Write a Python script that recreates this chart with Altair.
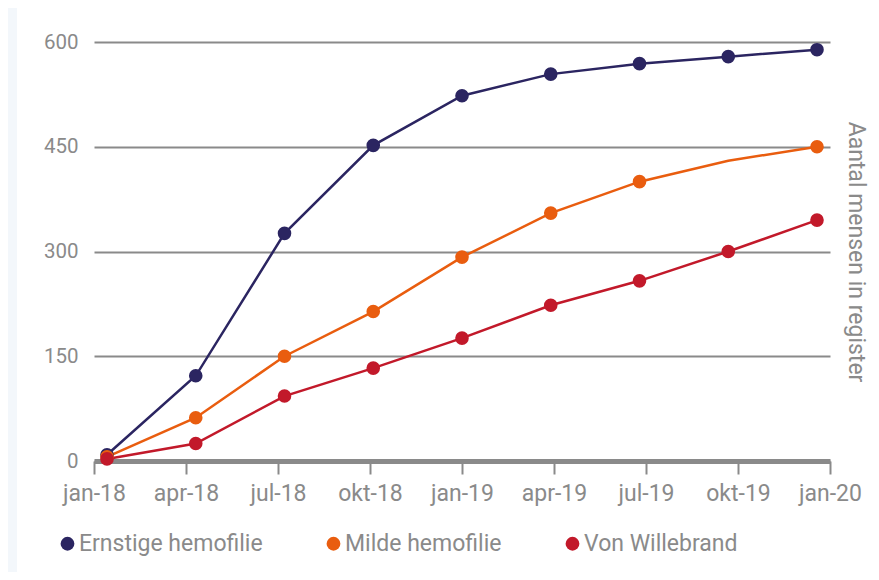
import altair as alt
import pandas as pd

# ---- data ----
quarters = ["jan-18", "apr-18", "jul-18", "okt-18", "jan-19",
            "apr-19", "jul-19", "okt-19", "jan-20"]
series = ["Ernstige hemofilie", "Milde hemofilie", "Von Willebrand"]
ernstige = [9, 122, 326, 452, 523, 554, 569, 579, 589]
milde = [6, 62, 150, 214, 292, 355, 400, 430, 450]
willebrand = [3, 25, 93, 133, 176, 223, 258, 300, 345]
# the orange series shows no marker at okt-19
markers_ernstige = [True] * 9
markers_milde = [True] * 7 + [False, True]
markers_willebrand = [True] * 9
colors = ["#2b2561", "#e95d0f", "#c2192a"]
y_ticks = [0, 150, 300, 450, 600]

rows = []
for name, vals, marks in zip(series,
                             [ernstige, milde, willebrand],
                             [markers_ernstige, markers_milde, markers_willebrand]):
    for i, (v, m) in enumerate(zip(vals, marks)):
        rows.append({"serie": name, "idx": i, "waarde": v, "marker": m})
df = pd.DataFrame(rows)
ticks_df = pd.DataFrame({"idx": list(range(len(quarters))), "label": quarters})

GREY = "#8a8a8a"
FONT = "Roboto"
W, H = 736, 419

label_expr = "[" + ",".join("'%s'" % q for q in quarters) + "][datum.value]"

color_scale = alt.Scale(domain=series, range=colors)
x_data = alt.X("idx:Q", scale=alt.Scale(domain=[-0.1465, 8.1465], nice=False, zero=False), axis=None)
y_enc = alt.Y(
    "waarde:Q",
    scale=alt.Scale(domain=[0, 600], nice=False),
    axis=alt.Axis(
        values=y_ticks,
        title="Aantal mensen in register",
        titleAngle=90,
        titleX=W + 25,
        titleY=H / 2,
        titleAlign="center",
        titleBaseline="middle",
        titleFontSize=23,
        titleFontWeight="normal",
        titleColor=GREY,
        titleFont=FONT,
        domain=False,
        ticks=False,
        tickSize=0,
        labelPadding=16,
        labelFontSize=20.5,
        labelColor=GREY,
        labelFont=FONT,
        grid=True,
        gridColor=GREY,
        gridWidth=2,
    ),
)

strip = alt.Chart(alt.Data(values=[{"a": 1}])).mark_rect(fill="#f3f7fb").encode(
    x=alt.value(-86), x2=alt.value(-77), y=alt.value(-34), y2=alt.value(540)
)

axis_layer = alt.Chart(ticks_df).mark_rule(opacity=0).encode(
    x=alt.X(
        "idx:Q",
        scale=alt.Scale(domain=[0, 8], nice=False, zero=False),
        axis=alt.Axis(
            values=list(range(len(quarters))),
            labelExpr=label_expr,
            title=None,
            grid=False,
            domainColor=GREY,
            domainWidth=5,
            tickColor=GREY,
            tickWidth=2,
            tickSize=13,
            labelPadding=8,
            labelFontSize=23,
            labelColor=GREY,
            labelFont=FONT,
            labelOverlap=False,
            labelFlush=False,
            labelBound=False,
        ),
    )
)

line_layers = []
for name, col in zip(series, colors):
    line_layers.append(
        alt.Chart(df)
        .transform_filter(alt.datum.serie == name)
        .mark_line(strokeWidth=2.5, color=col)
        .encode(x=x_data, y=y_enc, order="idx:Q")
    )

points = alt.Chart(df).transform_filter("datum.marker").mark_point(
    filled=True, size=185, opacity=1, shape="circle"
).encode(
    x=x_data,
    y=alt.Y("waarde:Q"),
    color=alt.Color(
        "serie:N",
        scale=color_scale,
        legend=alt.Legend(
            title=None,
            orient="none",
            direction="horizontal",
            legendX=-38,
            legendY=490,
            symbolType="circle",
            symbolSize=190,
            symbolOpacity=1,
            labelFontSize=23,
            labelColor=GREY,
            labelFont=FONT,
            labelOffset=0,
            columnPadding=59,
            padding=0,
            labelLimit=400,
        ),
    ),
)

chart = (
    alt.layer(strip, axis_layer, *line_layers, points)
    .resolve_scale(x="independent")
    .properties(
        width=W,
        height=H,
        background="white",
        padding={"left": 86, "top": 34, "right": 41, "bottom": 111},
        autosize=alt.AutoSizeParams(type="none"),
    )
    .configure_view(stroke=None)
)

chart.save("out.html", embed_options={"renderer": "svg", "actions": False})
